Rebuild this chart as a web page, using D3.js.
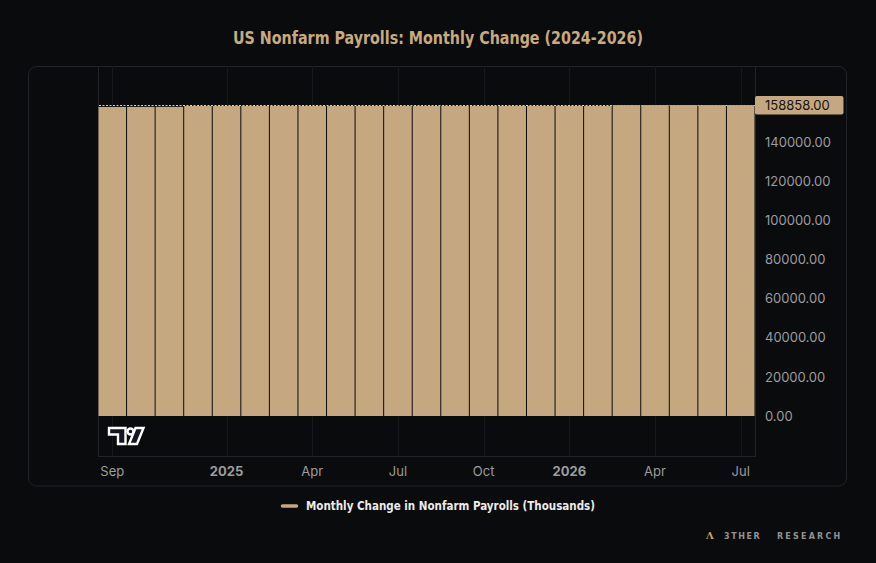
<!DOCTYPE html>
<html>
<head>
<meta charset="utf-8">
<script src="https://cdn.jsdelivr.net/npm/d3@7"></script>
<style>
  html, body { margin: 0; padding: 0; background: #0a0b0d; }
  svg { display: block; }
</style>
</head>
<body>
<svg id="chart" width="876" height="563"></svg>
<script>
// monthly data, Sep 2024 .. Jul 2026
const months = ["2024-09","2024-10","2024-11","2024-12","2025-01","2025-02","2025-03","2025-04",
  "2025-05","2025-06","2025-07","2025-08","2025-09","2025-10","2025-11","2025-12","2026-01",
  "2026-02","2026-03","2026-04","2026-05","2026-06","2026-07"];
const values = [157920, 157950, 157980, 158420, 158430, 158440, 158450, 158430, 158440, 158450,
  158460, 158440, 158450, 158460, 158450, 158470, 158460, 158450, 158860, 158858, 158870,
  158860, 158858];
const lastValue = 158858;

const tickMonths = ["2024-09","2025-01","2025-04","2025-07","2025-10","2026-01","2026-04","2026-07"];
const tickLabels = ["Sep","2025","Apr","Jul","Oct","2026","Apr","Jul"];
const boldTicks = ["2025","2026"];
const priceTicks = [0, 20000, 40000, 60000, 80000, 100000, 120000, 140000];

const title = "US Nonfarm Payrolls: Monthly Change (2024-2026)";
const seriesName = "Monthly Change in Nonfarm Payrolls (Thousands)";

const TAN = "#c5a880";
const BG = "#0a0b0d";
const GRID = "#17181c";
const BORDER = "#222328";
const AXIS_TXT = "#9c9c9e";

const pane = { left: 98, right: 755, top: 66, bottom: 456 };
const svg = d3.select("#chart");

svg.append("rect").attr("width", 876).attr("height", 563).attr("fill", BG);

// title
svg.append("text")
    .attr("x", 438).attr("y", 43.5)
    .attr("text-anchor", "middle")
    .attr("font-family", "'DejaVu Sans Condensed', 'Liberation Sans Narrow', 'Roboto', sans-serif")
    .attr("font-stretch", "condensed")
    .attr("font-weight", 700)
    .attr("font-size", "18px")
    .attr("textLength", 410)
    .attr("lengthAdjust", "spacingAndGlyphs")
    .attr("fill", "#c8aa7c")
    .text(title);

// card
svg.append("rect")
    .attr("x", 28.5).attr("y", 66.5)
    .attr("width", 818).attr("height", 419.5)
    .attr("rx", 8)
    .attr("fill", BG)
    .attr("stroke", BORDER)
    .attr("stroke-width", 1);

const x = d3.scaleBand().domain(months).range([pane.left, pane.right]).padding(0);
const y = d3.scaleLinear().domain([0, 160000]).range([416, 416 - 160000 * 0.0019571]);
const bw = x.bandwidth();

// vertical grid
svg.append("g").selectAll("line")
    .data(tickMonths)
    .join("line")
    .attr("x1", d => Math.round(x(d) + bw / 2) + 0.5)
    .attr("x2", d => Math.round(x(d) + bw / 2) + 0.5)
    .attr("y1", pane.top).attr("y2", pane.bottom)
    .attr("stroke", GRID).attr("stroke-width", 1);

// pane borders
svg.append("line")
    .attr("x1", pane.left + 0.5).attr("x2", pane.left + 0.5)
    .attr("y1", pane.top).attr("y2", pane.bottom)
    .attr("stroke", BORDER);
svg.append("line")
    .attr("x1", pane.right + 0.5).attr("x2", pane.right + 0.5)
    .attr("y1", pane.top).attr("y2", pane.bottom)
    .attr("stroke", BORDER);
svg.append("line")
    .attr("x1", pane.left).attr("x2", pane.right + 1)
    .attr("y1", pane.bottom + 0.5).attr("y2", pane.bottom + 0.5)
    .attr("stroke", BORDER);

// last value price line (dotted, behind bars)
svg.append("line")
    .attr("x1", pane.left + 1).attr("x2", pane.right)
    .attr("y1", Math.round(y(lastValue)) + 0.5).attr("y2", Math.round(y(lastValue)) + 0.5)
    .attr("stroke", "#e0cfae")
    .attr("stroke-width", 1)
    .attr("stroke-dasharray", "2 1.5");

// histogram bars
svg.append("g").selectAll("rect")
    .data(months.map((m, i) => ({ m, v: values[i] })))
    .join("rect")
    .attr("x", d => x(d.m) + 0.5)
    .attr("y", d => y(d.v))
    .attr("width", bw - 1)
    .attr("height", d => y(0) - y(d.v))
    .attr("fill", TAN);

// price axis
const yAxis = d3.axisRight(y).tickValues(priceTicks).tickSize(0).tickPadding(10)
    .tickFormat(d3.format(".2f"));
const gy = svg.append("g")
    .attr("transform", `translate(${pane.right},0)`)
    .call(yAxis);
gy.select(".domain").remove();
gy.selectAll("text")
    .attr("font-family", "Inter, 'Noto Sans', sans-serif")
    .attr("font-size", "13px")
    .attr("fill", AXIS_TXT);

// last value label
const ly = y(lastValue);
svg.append("rect")
    .attr("x", 755).attr("y", ly - 9)
    .attr("width", 88.5).attr("height", 18.5)
    .attr("rx", 2)
    .attr("fill", TAN);
svg.append("text")
    .attr("x", 765).attr("y", ly + 0.5)
    .attr("dy", "0.35em")
    .attr("font-family", "Inter, 'Noto Sans', sans-serif")
    .attr("font-size", "13px")
    .attr("fill", "#15130f")
    .text(d3.format(".2f")(lastValue));

// time axis
const xAxis = d3.axisBottom(x).tickValues(tickMonths).tickSize(0).tickPadding(0)
    .tickFormat(d => tickLabels[tickMonths.indexOf(d)]);
const gx = svg.append("g")
    .attr("transform", `translate(0,${pane.bottom})`)
    .call(xAxis);
gx.select(".domain").remove();
gx.selectAll("text")
    .attr("y", 20)
    .attr("dy", 0)
    .attr("font-family", "Inter, 'Noto Sans', sans-serif")
    .attr("font-size", "13px")
    .attr("font-weight", d => boldTicks.includes(tickLabels[tickMonths.indexOf(d)]) ? 700 : 400)
    .attr("fill", AXIS_TXT);

// TradingView logo
const logo = svg.append("g").attr("transform", "translate(109,428)")
    .attr("fill", "#131722").attr("stroke", "#ffffff").attr("stroke-width", 2.4)
    .attr("stroke-linejoin", "miter");
logo.append("path").attr("d", "M0,0 H16.5 V16 H9 V6.5 H0 Z");
logo.append("circle").attr("cx", 21.5).attr("cy", 3.5).attr("r", 3);
logo.append("path").attr("d", "M26.5,0 H34.5 L28,16 H20 Z");

// legend
const legend = svg.append("g");
legend.append("line")
    .attr("x1", 282.5).attr("x2", 296.5)
    .attr("y1", 506).attr("y2", 506)
    .attr("stroke", TAN).attr("stroke-width", 3.5)
    .attr("stroke-linecap", "round");
legend.append("text")
    .attr("x", 306).attr("y", 510)
    .attr("font-family", "'DejaVu Sans Condensed', 'Liberation Sans Narrow', 'Roboto', sans-serif")
    .attr("font-stretch", "condensed")
    .attr("font-weight", 700)
    .attr("font-size", "13px")
    .attr("textLength", 289)
    .attr("lengthAdjust", "spacingAndGlyphs")
    .attr("fill", "#ececec")
    .text(seriesName);

// watermark
const wm = svg.append("g")
    .attr("font-family", "'DejaVu Sans', sans-serif")
    .attr("font-weight", 700);
wm.append("text")
    .attr("x", 706).attr("y", 538.5)
    .attr("font-family", "'DejaVu Serif', serif")
    .attr("font-size", "10px")
    .attr("fill", "#c8a26a")
    .text("Λ");
wm.append("text")
    .attr("x", 724).attr("y", 538.5)
    .attr("font-size", "8px")
    .attr("letter-spacing", "1.6px")
    .attr("fill", "#929294")
    .text("3THER");
wm.append("text")
    .attr("x", 777).attr("y", 538.5)
    .attr("font-size", "8px")
    .attr("letter-spacing", "2.2px")
    .attr("fill", "#929294")
    .text("RESEARCH");
</script>
</body>
</html>
